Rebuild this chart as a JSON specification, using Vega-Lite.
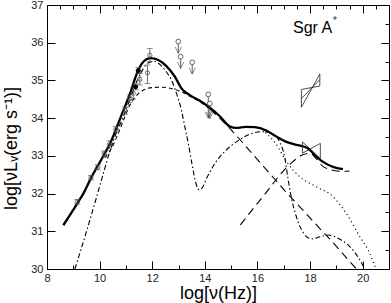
{
  "$schema": "https://vega.github.io/schema/vega-lite/v6.json",
  "width": 342,
  "height": 264,
  "autosize": {"type": "none"},
  "padding": {"left": 47, "top": 5, "right": 2, "bottom": 34},
  "config": {
    "view": {"stroke": "black", "strokeWidth": 1},
    "font": "Liberation Sans",
    "axis": {"domain": false, "grid": false, "tickColor": "black", "tickWidth": 1, "labelFontSize": 11, "labelColor": "#222", "labelFlush": false, "labelOverlap": false, "titleFontWeight": "normal", "titleColor": "black", "titleFont": "Liberation Sans"}
  },
  "datasets": {
    "curves": [
      {"s": "total", "x": 8.62, "y": 31.16}, {"s": "total", "x": 8.9, "y": 31.46}, {"s": "total", "x": 9.19, "y": 31.78}, {"s": "total", "x": 9.38, "y": 32.0}, {"s": "total", "x": 9.7, "y": 32.45}, {"s": "total", "x": 9.95, "y": 32.76}, {"s": "total", "x": 10.2, "y": 33.07}, {"s": "total", "x": 10.4, "y": 33.33}, {"s": "total", "x": 10.6, "y": 33.67}, {"s": "total", "x": 10.9, "y": 34.2}, {"s": "total", "x": 11.15, "y": 34.64}, {"s": "total", "x": 11.41, "y": 35.17}, {"s": "total", "x": 11.59, "y": 35.43}, {"s": "total", "x": 11.78, "y": 35.56}, {"s": "total", "x": 11.95, "y": 35.59}, {"s": "total", "x": 12.23, "y": 35.54}, {"s": "total", "x": 12.54, "y": 35.38}, {"s": "total", "x": 12.86, "y": 35.1}, {"s": "total", "x": 13.11, "y": 34.79}, {"s": "total", "x": 13.43, "y": 34.61}, {"s": "total", "x": 13.81, "y": 34.46}, {"s": "total", "x": 14.19, "y": 34.28}, {"s": "total", "x": 14.57, "y": 34.05}, {"s": "total", "x": 14.95, "y": 33.78}, {"s": "total", "x": 15.2, "y": 33.74}, {"s": "total", "x": 15.55, "y": 33.77}, {"s": "total", "x": 15.9, "y": 33.76}, {"s": "total", "x": 16.34, "y": 33.67}, {"s": "total", "x": 16.72, "y": 33.51}, {"s": "total", "x": 17.1, "y": 33.37}, {"s": "total", "x": 17.48, "y": 33.29}, {"s": "total", "x": 17.86, "y": 33.22}, {"s": "total", "x": 18.0, "y": 33.15}, {"s": "total", "x": 18.24, "y": 32.98}, {"s": "total", "x": 18.49, "y": 32.84}, {"s": "total", "x": 18.87, "y": 32.71}, {"s": "total", "x": 19.25, "y": 32.65},
      {"s": "dd", "x": 9.06, "y": 30.0}, {"s": "dd", "x": 9.32, "y": 30.58}, {"s": "dd", "x": 9.63, "y": 31.3}, {"s": "dd", "x": 9.89, "y": 31.92}, {"s": "dd", "x": 10.14, "y": 32.53}, {"s": "dd", "x": 10.39, "y": 33.12}, {"s": "dd", "x": 10.6, "y": 33.55}, {"s": "dd", "x": 10.85, "y": 33.95}, {"s": "dd", "x": 11.1, "y": 34.4}, {"s": "dd", "x": 11.4, "y": 34.95}, {"s": "dd", "x": 11.65, "y": 35.3}, {"s": "dd", "x": 11.9, "y": 35.48}, {"s": "dd", "x": 12.1, "y": 35.5}, {"s": "dd", "x": 12.3, "y": 35.42}, {"s": "dd", "x": 12.5, "y": 35.26}, {"s": "dd", "x": 12.73, "y": 35.01}, {"s": "dd", "x": 12.92, "y": 34.66}, {"s": "dd", "x": 13.11, "y": 34.21}, {"s": "dd", "x": 13.24, "y": 33.77}, {"s": "dd", "x": 13.37, "y": 33.33}, {"s": "dd", "x": 13.52, "y": 32.75}, {"s": "dd", "x": 13.65, "y": 32.3}, {"s": "dd", "x": 13.78, "y": 32.1}, {"s": "dd", "x": 13.9, "y": 32.15}, {"s": "dd", "x": 14.05, "y": 32.38}, {"s": "dd", "x": 14.2, "y": 32.58}, {"s": "dd", "x": 14.4, "y": 32.82}, {"s": "dd", "x": 14.6, "y": 33.0}, {"s": "dd", "x": 14.95, "y": 33.24}, {"s": "dd", "x": 15.3, "y": 33.42}, {"s": "dd", "x": 15.8, "y": 33.6}, {"s": "dd", "x": 16.2, "y": 33.64}, {"s": "dd", "x": 16.55, "y": 33.6}, {"s": "dd", "x": 16.85, "y": 33.36}, {"s": "dd", "x": 17.04, "y": 32.95}, {"s": "dd", "x": 17.16, "y": 32.4}, {"s": "dd", "x": 17.3, "y": 31.85}, {"s": "dd", "x": 17.45, "y": 31.45}, {"s": "dd", "x": 17.6, "y": 31.15}, {"s": "dd", "x": 17.75, "y": 30.95}, {"s": "dd", "x": 17.92, "y": 30.83}, {"s": "dd", "x": 18.1, "y": 30.8}, {"s": "dd", "x": 18.4, "y": 30.86}, {"s": "dd", "x": 18.7, "y": 30.9}, {"s": "dd", "x": 19.1, "y": 30.8}, {"s": "dd", "x": 19.5, "y": 30.6}, {"s": "dd", "x": 19.82, "y": 30.32}, {"s": "dd", "x": 20.08, "y": 30.0},
      {"s": "hump", "x": 10.2, "y": 32.95}, {"s": "hump", "x": 10.45, "y": 33.2}, {"s": "hump", "x": 10.65, "y": 33.5}, {"s": "hump", "x": 10.9, "y": 33.93}, {"s": "hump", "x": 11.1, "y": 34.28}, {"s": "hump", "x": 11.35, "y": 34.56}, {"s": "hump", "x": 11.65, "y": 34.74}, {"s": "hump", "x": 12.0, "y": 34.81}, {"s": "hump", "x": 12.4, "y": 34.82}, {"s": "hump", "x": 12.75, "y": 34.78}, {"s": "hump", "x": 13.1, "y": 34.7}, {"s": "hump", "x": 13.43, "y": 34.58}, {"s": "hump", "x": 13.8, "y": 34.44}, {"s": "hump", "x": 14.2, "y": 34.24},
      {"s": "decl", "x": 14.2, "y": 34.24}, {"s": "decl", "x": 14.85, "y": 33.8}, {"s": "decl", "x": 15.5, "y": 33.3}, {"s": "decl", "x": 16.0, "y": 32.9}, {"s": "decl", "x": 16.66, "y": 32.38}, {"s": "decl", "x": 17.2, "y": 31.95}, {"s": "decl", "x": 17.61, "y": 31.65}, {"s": "decl", "x": 18.2, "y": 31.2}, {"s": "decl", "x": 18.87, "y": 30.7}, {"s": "decl", "x": 19.3, "y": 30.36}, {"s": "decl", "x": 19.76, "y": 30.0},
      {"s": "rise", "x": 15.35, "y": 31.17}, {"s": "rise", "x": 15.8, "y": 31.57}, {"s": "rise", "x": 16.3, "y": 32.0}, {"s": "rise", "x": 16.8, "y": 32.45}, {"s": "rise", "x": 17.3, "y": 32.82}, {"s": "rise", "x": 17.7, "y": 33.02}, {"s": "rise", "x": 18.0, "y": 33.07}, {"s": "rise", "x": 18.24, "y": 32.92}, {"s": "rise", "x": 18.49, "y": 32.72}, {"s": "rise", "x": 18.87, "y": 32.62}, {"s": "rise", "x": 19.2, "y": 32.59}, {"s": "rise", "x": 19.5, "y": 32.6},
      {"s": "dot", "x": 16.3, "y": 33.62}, {"s": "dot", "x": 16.7, "y": 33.32}, {"s": "dot", "x": 17.1, "y": 32.85}, {"s": "dot", "x": 17.6, "y": 32.45}, {"s": "dot", "x": 18.24, "y": 32.18}, {"s": "dot", "x": 18.87, "y": 31.92}, {"s": "dot", "x": 19.38, "y": 31.47}, {"s": "dot", "x": 19.89, "y": 30.86}, {"s": "dot", "x": 20.27, "y": 30.41}, {"s": "dot", "x": 20.5, "y": 30.0}
    ],
    "pts": [
      {"x": 9.15, "y": 31.78, "lo": 31.72, "hi": 31.84, "f": 0},
      {"x": 9.67, "y": 32.42, "lo": 32.36, "hi": 32.48, "f": 0},
      {"x": 9.93, "y": 32.7, "lo": 32.63, "hi": 32.77, "f": 0},
      {"x": 10.17, "y": 33.05, "lo": 32.97, "hi": 33.13, "f": 0},
      {"x": 10.37, "y": 33.3, "lo": 33.2, "hi": 33.4, "f": 0},
      {"x": 10.62, "y": 33.7, "lo": 33.62, "hi": 33.78, "f": 0},
      {"x": 10.96, "y": 34.2, "lo": 34.1, "hi": 34.3, "f": 0},
      {"x": 11.15, "y": 34.52, "lo": 34.42, "hi": 34.62, "f": 0},
      {"x": 11.28, "y": 34.66, "lo": 34.5, "hi": 34.82, "f": 0},
      {"x": 11.37, "y": 34.83, "lo": 34.75, "hi": 34.91, "f": 1},
      {"x": 11.47, "y": 35.26, "lo": 35.18, "hi": 35.34, "f": 1},
      {"x": 11.53, "y": 35.03, "lo": 34.88, "hi": 35.18, "f": 0},
      {"x": 11.82, "y": 35.2, "lo": 34.92, "hi": 35.41, "f": 0},
      {"x": 11.91, "y": 35.67, "lo": 35.5, "hi": 35.85, "f": 0}
    ],
    "lims": [
      {"x": 12.99, "y": 36.03, "tip": 35.72},
      {"x": 13.08, "y": 35.63, "tip": 35.32},
      {"x": 13.52, "y": 35.48, "tip": 35.17},
      {"x": 14.13, "y": 34.63, "tip": 34.0},
      {"x": 14.19, "y": 34.39, "tip": 33.99}
    ],
    "bow": [
      {"b": 1, "o": 1, "x": 17.67, "y": 34.76}, {"b": 1, "o": 2, "x": 18.37, "y": 34.85}, {"b": 1, "o": 3, "x": 18.37, "y": 35.17}, {"b": 1, "o": 4, "x": 17.67, "y": 34.29}, {"b": 1, "o": 5, "x": 17.67, "y": 34.76},
      {"b": 2, "o": 1, "x": 17.67, "y": 34.52}, {"b": 2, "o": 2, "x": 18.37, "y": 35.02},
      {"b": 3, "o": 1, "x": 17.71, "y": 33.37}, {"b": 3, "o": 2, "x": 18.39, "y": 32.93}, {"b": 3, "o": 3, "x": 18.39, "y": 33.33}, {"b": 3, "o": 4, "x": 17.71, "y": 33.07}, {"b": 3, "o": 5, "x": 17.71, "y": 33.37}
    ],
    "lab": [
      {"x": 17.35, "y": 36.26, "t": "Sgr A", "k": "main"},
      {"x": 18.86, "y": 36.58, "t": "*", "k": "sup"}
    ]
  },
  "encoding": {
    "x": {"field": "x", "type": "quantitative", "scale": {"domain": [8, 21], "nice": false, "zero": false}, "axis": null},
    "y": {"field": "y", "type": "quantitative", "scale": {"domain": [30, 37], "nice": false, "zero": false}, "axis": null}
  },
  "layer": [
    {
      "data": {"name": "curves"},
      "transform": [{"filter": "datum.s !== 'total'"}],
      "mark": {"type": "line", "interpolate": "monotone", "strokeWidth": 1.1, "color": "black"},
      "encoding": {
        "x": {"field": "x", "type": "quantitative", "scale": {"domain": [8, 21], "nice": false, "zero": false},
          "axis": {"orient": "bottom", "values": [8, 8.5, 9, 9.5, 10, 10.5, 11, 11.5, 12, 12.5, 13, 13.5, 14, 14.5, 15, 15.5, 16, 16.5, 17, 17.5, 18, 18.5, 19, 19.5, 20, 20.5, 21], "format": "d", "labelExpr": "datum.value % 2 === 0 && datum.value < 21 ? datum.label : ''", "tickSize": {"condition": {"test": "datum.value % 2 === 0", "value": -8}, "value": -4}, "labelPadding": 11, "title": "log[ν(Hz)]", "titleFontSize": 18, "titlePadding": -3}},
        "y": {"field": "y", "type": "quantitative", "scale": {"domain": [30, 37], "nice": false, "zero": false},
          "axis": {"orient": "left", "values": [30, 30.5, 31, 31.5, 32, 32.5, 33, 33.5, 34, 34.5, 35, 35.5, 36, 36.5, 37], "format": "d", "labelExpr": "datum.value % 1 === 0 ? datum.label : ''", "tickSize": {"condition": {"test": "datum.value % 1 === 0", "value": -8}, "value": -4}, "labelPadding": 12, "title": "log[νLᵥ(erg s⁻¹)]", "titleFontSize": 18, "titlePadding": 10, "titleY": 143}},
        "detail": {"field": "s"},
        "strokeDash": {"field": "s", "type": "nominal", "scale": {"domain": ["dd", "hump", "decl", "rise", "dot"], "range": [[5, 2.5, 1.5, 2.5], [4, 3], [8, 5], [8, 5], [1.2, 3]]}, "legend": null}
      }
    },
    {
      "data": {"name": "curves"},
      "transform": [{"filter": "datum.s === 'total'"}],
      "mark": {"type": "line", "interpolate": "monotone", "strokeWidth": 2.3, "color": "black"},
      "encoding": {}
    },
    {
      "data": {"name": "bow"},
      "mark": {"type": "line", "strokeWidth": 0.8, "color": "#222"},
      "encoding": {"detail": {"field": "b"}, "order": {"field": "o"}}
    },
    {
      "data": {"name": "pts"},
      "mark": {"type": "rule", "strokeWidth": 0.8, "color": "#444"},
      "encoding": {
        "x": {"field": "x", "type": "quantitative", "scale": {"domain": [8, 21], "nice": false, "zero": false},
          "axis": {"orient": "top", "values": [8, 8.5, 9, 9.5, 10, 10.5, 11, 11.5, 12, 12.5, 13, 13.5, 14, 14.5, 15, 15.5, 16, 16.5, 17, 17.5, 18, 18.5, 19, 19.5, 20, 20.5, 21], "labels": false, "title": null, "tickSize": {"condition": {"test": "datum.value % 2 === 0", "value": -8}, "value": -4}}},
        "y": {"field": "lo", "type": "quantitative", "scale": {"domain": [30, 37], "nice": false, "zero": false},
          "axis": {"orient": "right", "values": [30, 30.5, 31, 31.5, 32, 32.5, 33, 33.5, 34, 34.5, 35, 35.5, 36, 36.5, 37], "labels": false, "title": null, "tickSize": {"condition": {"test": "datum.value % 1 === 0", "value": -8}, "value": -4}}},
        "y2": {"field": "hi"}
      }
    },
    {
      "data": {"name": "pts"},
      "mark": {"type": "tick", "orient": "horizontal", "size": 6, "thickness": 0.8, "color": "#444"},
      "encoding": {"y": {"field": "lo", "type": "quantitative", "axis": null}}
    },
    {
      "data": {"name": "pts"},
      "mark": {"type": "tick", "orient": "horizontal", "size": 6, "thickness": 0.8, "color": "#444"},
      "encoding": {"y": {"field": "hi", "type": "quantitative", "axis": null}}
    },
    {
      "data": {"name": "pts"},
      "mark": {"type": "point", "shape": "circle", "size": 18, "strokeWidth": 0.8, "opacity": 1},
      "encoding": {
        "fill": {"field": "f", "type": "nominal", "scale": {"domain": [0, 1], "range": ["transparent", "black"]}, "legend": null},
        "stroke": {"field": "f", "type": "nominal", "scale": {"domain": [0, 1], "range": ["#555", "black"]}, "legend": null}
      }
    },
    {
      "data": {"name": "lims"},
      "mark": {"type": "rule", "strokeWidth": 0.8, "color": "#333"},
      "encoding": {"y2": {"field": "tip"}}
    },
    {
      "data": {"name": "lims"},
      "mark": {"type": "point", "shape": "M-1,-2L0,0L1,-2", "size": 40, "filled": false, "strokeWidth": 0.8, "color": "#333"},
      "encoding": {"y": {"field": "tip", "type": "quantitative", "axis": null}}
    },
    {
      "data": {"name": "lims"},
      "mark": {"type": "point", "shape": "circle", "size": 22, "filled": true, "fill": "white", "stroke": "#444", "strokeWidth": 0.8, "opacity": 1},
      "encoding": {}
    },
    {
      "data": {"name": "lab"},
      "transform": [{"filter": "datum.k === 'main'"}],
      "mark": {"type": "text", "align": "left", "baseline": "alphabetic", "fontSize": 16, "color": "black"},
      "encoding": {"text": {"field": "t"}}
    },
    {
      "data": {"name": "lab"},
      "transform": [{"filter": "datum.k === 'sup'"}],
      "mark": {"type": "text", "align": "left", "baseline": "middle", "fontSize": 11, "color": "#444"},
      "encoding": {"text": {"field": "t"}}
    }
  ],
  "resolve": {"axis": {"x": "independent", "y": "independent"}}
}
